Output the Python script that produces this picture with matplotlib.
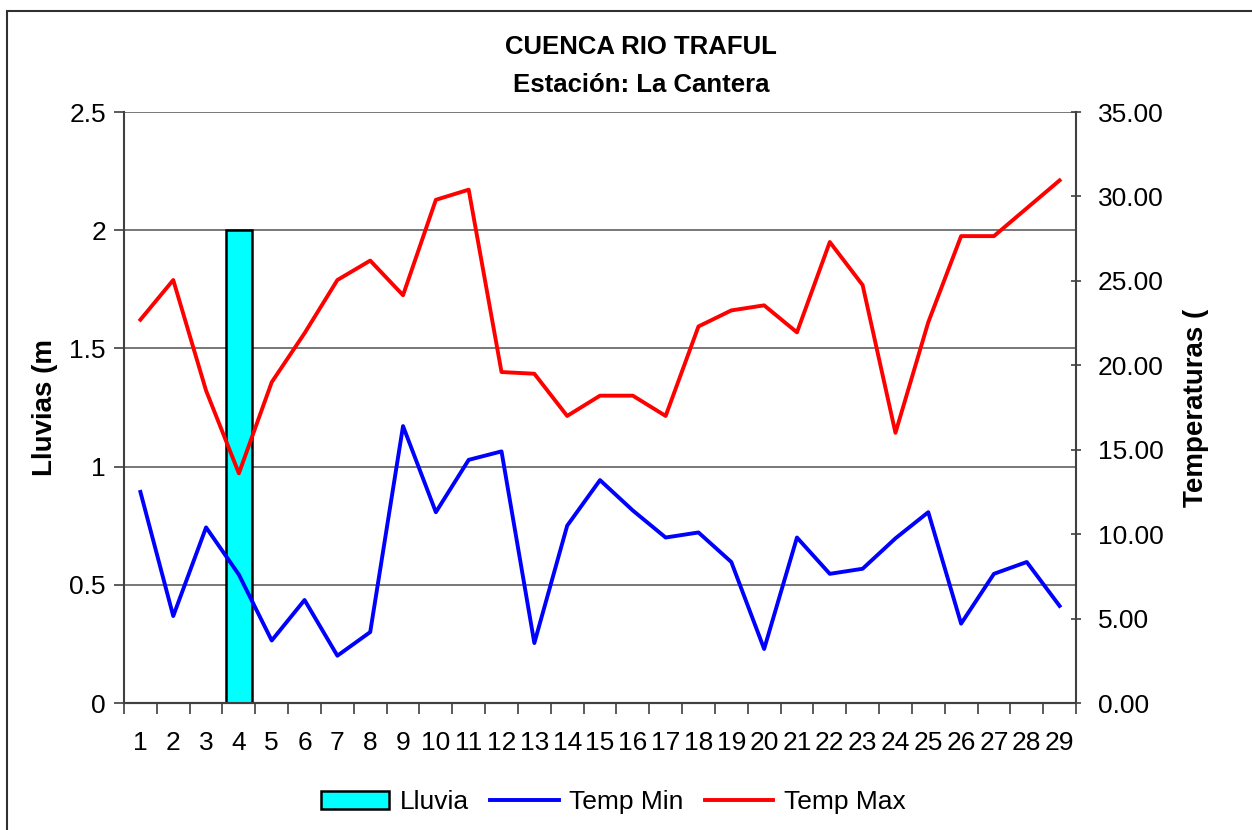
import matplotlib
matplotlib.use("Agg")
from matplotlib import pyplot as plt
from matplotlib.patches import Rectangle
import numpy as np

plt.rcParams['font.family'] = ['Liberation Sans', 'DejaVu Sans']

dias = list(range(1, 30))
lluvia = [0, 0, 0, 2, 0, 0, 0, 0, 0, 0, 0, 0, 0, 0, 0, 0, 0, 0, 0, 0, 0, 0, 0, 0, 0, 0, 0, 0, 0]
temp_min = [12.5, 5.15, 10.4, 7.6, 3.7, 6.1, 2.8, 4.2, 16.4, 11.3, 14.4, 14.9, 3.55, 10.5,
            13.2, 11.4, 9.8, 10.1, 8.35, 3.2, 9.8, 7.65, 7.95, 9.75, 11.3, 4.7, 7.65, 8.35, 5.75]
temp_max = [22.7, 25.05, 18.5, 13.6, 19.0, 21.9, 25.05, 26.2, 24.15, 29.8, 30.4, 19.6, 19.5, 17.0,
            18.2, 18.2, 17.0, 22.3, 23.25, 23.55, 21.95, 27.3, 24.75, 16.0, 22.55, 27.65, 27.65, 29.3, 30.95]

fig = plt.figure(figsize=(12.52, 8.3), dpi=100)
ax1 = fig.add_axes([124 / 1252, 1 - 703 / 830, 952 / 1252, 591 / 830])
ax2 = ax1.twinx()

x = np.arange(len(dias))
bars = ax1.bar(x, lluvia, width=0.8, color='#00ffff', edgecolor='black', linewidth=1.8, label='Lluvia', zorder=3)
l1, = ax2.plot(x, temp_min, color='#0000ff', linewidth=2.8, label='Temp Min')
l2, = ax2.plot(x, temp_max, color='#ff0000', linewidth=2.8, label='Temp Max')

ax1.set_xlim(-0.5, len(dias) - 0.5)
ax1.set_ylim(0, 2.5)
ax2.set_ylim(0, 35)

ax1.set_yticks([0, 0.5, 1, 1.5, 2, 2.5])
ax1.set_yticklabels(['0', '0.5', '1', '1.5', '2', '2.5'])
ax2.set_yticks(np.arange(0, 36, 5))
ax2.set_yticklabels(['%.2f' % v for v in np.arange(0, 36, 5)])

ax1.set_xticks(x)
ax1.set_xticklabels([str(d) for d in dias])
ax1.set_xticks(np.arange(-0.5, len(dias), 1), minor=True)
ax1.tick_params(axis='x', which='major', length=0, pad=20, labelsize=19)
ax1.tick_params(axis='x', which='minor', length=8, width=1.2, color='#404040', direction='out')
ax1.tick_params(axis='y', length=7, width=1.2, color='#404040', direction='out', labelsize=19, pad=6)
ax2.tick_params(axis='y', length=7, width=1.2, color='#404040', direction='inout', labelsize=19, pad=12)

ax1.yaxis.grid(True, color='#606060', linewidth=1.2, zorder=0)
ax1.set_axisbelow(True)
for ax in (ax1, ax2):
    ax.spines['top'].set_visible(False)
    for s in ('left', 'right', 'bottom'):
        ax.spines[s].set_color('#404040')
        ax.spines[s].set_linewidth(1.5)
ax1.spines['right'].set_visible(False)
ax2.spines['left'].set_visible(False)

ax1.set_ylabel('Lluvias (m', fontsize=20, fontweight='bold', labelpad=8)
ax2.set_ylabel('Temperaturas (', fontsize=20, fontweight='bold', labelpad=14)

fig.text(641 / 1252, 1 - 47 / 830, 'CUENCA RIO TRAFUL', ha='center', va='center', fontsize=18.5, fontweight='bold')
fig.text(641 / 1252, 1 - 85 / 830, 'Estación: La Cantera', ha='center', va='center', fontsize=18.5, fontweight='bold')

fig.legend([bars, l1, l2], ['Lluvia', 'Temp Min', 'Temp Max'], loc='center', bbox_to_anchor=(613 / 1252, 1 - 802 / 830),
           ncol=3, frameon=False, fontsize=19, handlelength=2.6, handletextpad=0.4, columnspacing=0.8)

fig.patches.append(Rectangle((7 / 1252, -0.01), 1.02, 1 - 11 / 830 + 0.01, transform=fig.transFigure,
                             fill=False, edgecolor='#303030', linewidth=1.5))

fig.savefig('out.png', dpi=100)
